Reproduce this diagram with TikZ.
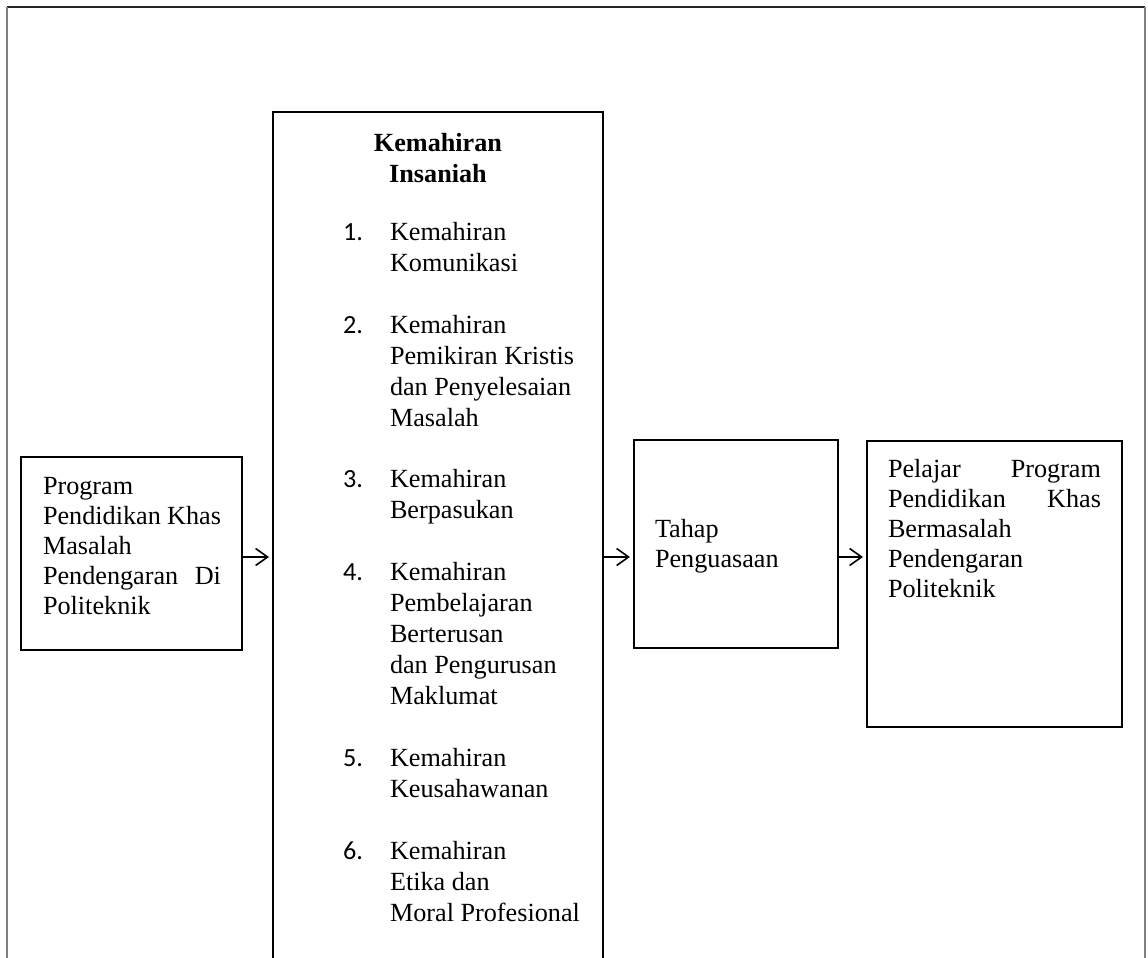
\documentclass[tikz,border=0pt]{standalone}
\usepackage{fontspec}
\setmainfont{Liberation Serif}
\newfontfamily\numfont{Carlito}
\usetikzlibrary{arrows.meta,calc}
\newcommand{\txt}{\fontsize{13.1}{15}\selectfont}
\newcommand{\ctxt}{\fontsize{13.1}{15.5}\selectfont}
\newcommand{\jline}[3]{\makebox[#1][l]{#2\hfill #3}}
\tikzset{
  boxnode/.style={draw=black,line width=0.9pt,inner sep=0pt,outer sep=0pt,rectangle},
  textblock/.style={anchor=base west,inner sep=0pt,outer sep=0pt},
  numnode/.style={anchor=base west,inner sep=0pt,outer sep=0pt,font=\numfont\fontsize{13.1}{15}\selectfont},
  arr/.style={line width=0.8pt,-{Straight Barb[length=6pt,width=8.5pt,line width=0.8pt]},shorten >=2pt}
}
\begin{document}
\begin{tikzpicture}[x=0.5pt,y=-0.5pt]
\useasboundingbox (0,0) rectangle (1148,958);
\fill[white] (0,0) rectangle (1148,958);
% outer frame
\draw[black!85,line width=0.9pt] (7,7) -- (1145,7);
\draw[black!50,line width=0.9pt] (7,7) -- (7,1000);
\draw[black!50,line width=0.9pt] (1145,7) -- (1145,1000);
% boxes
\node[boxnode,minimum width=110.5pt,minimum height=96.5pt] (lbox) at (131.5,553.5) {};
\node[boxnode,minimum width=165pt,minimum height=444pt] (cbox) at (438,556) {};
\node[boxnode,minimum width=102pt,minimum height=104pt] (tbox) at (736,544) {};
\node[boxnode,minimum width=127.5pt,minimum height=143pt] (rbox) at (994.5,584) {};
% left text
\node[textblock] (ltext) at (43,494) {\parbox[t]{100pt}{\txt\raggedright
Program\\
\jline{89pt}{Pendidikan}{Khas}\\
Masalah\\
\jline{89pt}{Pendengaran}{Di}\\
Politeknik}};
% central heading
\node[anchor=base,inner sep=0pt] (head) at (438,151) {\parbox[t]{160pt}{\ctxt\centering\bfseries Kemahiran\\Insaniah}};
% items
\node[numnode] (n1) at (343,240) {1.};
\node[textblock] (i1) at (390,240) {\parbox[t]{100pt}{\ctxt\raggedright Kemahiran\\Komunikasi}};
\node[numnode] (n2) at (343,333) {2.};
\node[textblock] (i2) at (390,333) {\parbox[t]{100pt}{\ctxt\raggedright Kemahiran\\Pemikiran Kristis\\dan Penyelesaian\\Masalah}};
\node[numnode] (n3) at (343,487) {3.};
\node[textblock] (i3) at (390,487) {\parbox[t]{100pt}{\ctxt\raggedright Kemahiran\\Berpasukan}};
\node[numnode] (n4) at (343,580) {4.};
\node[textblock] (i4) at (390,580) {\parbox[t]{100pt}{\ctxt\raggedright Kemahiran\\Pembelajaran\\Berterusan\\dan Pengurusan\\Maklumat}};
\node[numnode] (n5) at (343,766) {5.};
\node[textblock] (i5) at (390,766) {\parbox[t]{100pt}{\ctxt\raggedright Kemahiran\\Keusahawanan}};
\node[numnode] (n6) at (343,859) {6.};
\node[textblock] (i6) at (390,859) {\parbox[t]{100pt}{\ctxt\raggedright Kemahiran\\Etika dan\\Moral Profesional}};
% tahap text
\node[textblock] (ttext) at (655,537) {\parbox[t]{100pt}{\txt\raggedright Tahap\\Penguasaan}};
% right text
\node[textblock] (rtext) at (888,477) {\parbox[t]{120pt}{\txt\raggedright
\jline{106.5pt}{Pelajar}{Program}\\
\jline{106.5pt}{Pendidikan}{Khas}\\
Bermasalah\\
Pendengaran\\
Politeknik}};
% arrows
\draw[arr] ([yshift=-1.75pt]lbox.east) -- ([yshift=-1.75pt]lbox.east -| cbox.west);
\draw[arr] ([yshift=-6.5pt]tbox.west -| cbox.east) -- ([yshift=-6.5pt]tbox.west);
\draw[arr] ([yshift=-6.5pt]tbox.east) -- ([yshift=-6.5pt]tbox.east -| rbox.west);
\end{tikzpicture}
\end{document}
